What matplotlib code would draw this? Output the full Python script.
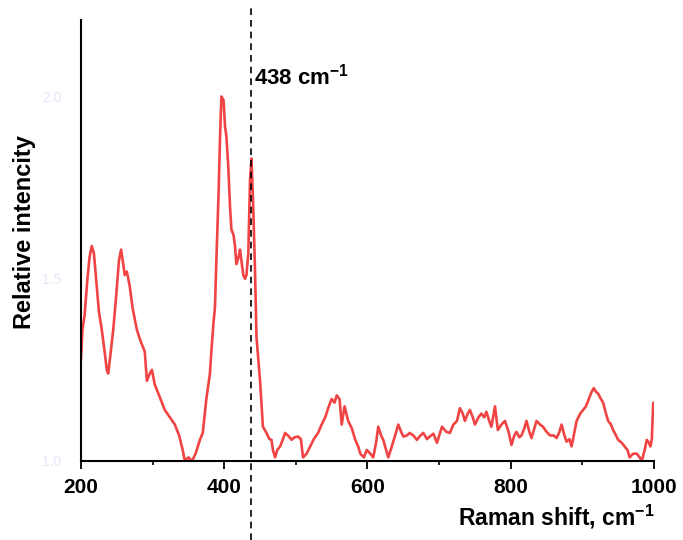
import matplotlib
matplotlib.use("Agg")
import matplotlib.pyplot as plt
from matplotlib.ticker import MultipleLocator

raman_shift = [200, 202, 205, 209, 212, 215, 218, 221, 225, 229, 233, 236, 238, 241, 245,
               249, 253, 256, 259, 261, 264, 268, 272, 275, 278, 283, 289, 292, 296, 299,
               303, 306, 311, 317, 324, 331, 337, 342, 345, 350, 355, 360, 366, 370, 375,
               380, 382, 385, 387, 389, 392, 394, 396, 399, 401, 403, 405.6, 408, 410, 413,
               415, 417, 420, 422, 424, 426.6, 429, 431, 433.6, 436, 438, 440.6, 443, 445,
               448, 450, 454, 459, 463, 466, 468, 471, 474, 478, 482, 485, 489, 494, 498,
               503, 507, 510, 515, 520, 525, 531, 536, 541, 546, 550, 554, 557, 561, 564,
               568, 573, 578, 583, 587, 590, 595, 599, 604, 608, 612, 615, 619, 622, 626,
               629, 634, 638, 643, 647, 650, 655, 659, 664, 669, 674, 678, 683, 687, 692,
               697, 704, 710, 715, 720, 725, 729, 733, 736, 740, 743, 747, 750, 755, 759,
               763, 766, 770, 773, 778, 782, 787, 792, 797, 801, 805, 808, 812, 815, 819,
               822, 826, 829, 833, 836, 841, 845, 850, 855, 860, 864, 868, 871, 875, 878,
               882, 885, 889, 892, 897, 901, 905, 909, 913, 916, 919, 922, 926, 929, 933,
               936, 940, 943, 947, 950, 955, 959, 963, 966, 971, 976, 980, 983, 987, 990,
               993, 995, 997, 999, 1000]
intensity = [1.28, 1.36, 1.40, 1.50, 1.56, 1.59, 1.57, 1.50, 1.41, 1.36, 1.30, 1.25, 1.24, 1.29, 1.36,
             1.45, 1.55, 1.58, 1.54, 1.51, 1.52, 1.48, 1.42, 1.39, 1.36, 1.33, 1.30, 1.22, 1.24, 1.25,
             1.21, 1.195, 1.17, 1.14, 1.12, 1.10, 1.07, 1.03, 1.00, 1.01, 1.00, 1.02, 1.058, 1.077, 1.17,
             1.24, 1.30, 1.38, 1.42, 1.55, 1.73, 1.88, 2.00, 1.99, 1.92, 1.89, 1.81, 1.70, 1.635, 1.62,
             1.59, 1.54, 1.56, 1.58, 1.55, 1.51, 1.50, 1.51, 1.57, 1.77, 1.83, 1.69, 1.52, 1.34,
             1.27, 1.22, 1.094, 1.077, 1.06, 1.058, 1.03, 1.01, 1.03, 1.04, 1.06, 1.077, 1.07, 1.058, 1.065,
             1.067, 1.06, 1.01, 1.02, 1.04, 1.06, 1.077, 1.10, 1.12, 1.15, 1.17, 1.16, 1.18, 1.17, 1.10,
             1.15, 1.11, 1.09, 1.058, 1.04, 1.02, 1.01, 1.03, 1.02, 1.01, 1.05, 1.094, 1.07, 1.058, 1.03,
             1.01, 1.04, 1.067, 1.10, 1.08, 1.067, 1.07, 1.077, 1.07, 1.058, 1.07, 1.077, 1.06, 1.067, 1.075,
             1.05, 1.094, 1.08, 1.077, 1.10, 1.11, 1.145, 1.13, 1.11, 1.13, 1.14, 1.12, 1.10, 1.12, 1.13,
             1.12, 1.135, 1.11, 1.094, 1.15, 1.085, 1.10, 1.11, 1.08, 1.044, 1.07, 1.08, 1.065, 1.07, 1.09,
             1.11, 1.08, 1.063, 1.09, 1.11, 1.10, 1.094, 1.08, 1.07, 1.07, 1.063, 1.08, 1.10, 1.07, 1.053,
             1.06, 1.04, 1.08, 1.11, 1.13, 1.14, 1.15, 1.17, 1.19, 1.20, 1.19, 1.185, 1.17, 1.16, 1.13,
             1.11, 1.10, 1.085, 1.07, 1.058, 1.05, 1.04, 1.03, 1.01, 1.02, 1.02, 1.01, 1.00, 1.03, 1.058,
             1.05, 1.04, 1.06, 1.16, 1.14]

x_ticks = [200, 400, 600, 800, 1000]
y_ticks = [1.0, 1.5, 2.0]
y_tick_labels = ["1.0", "1.5", "2.0"]
peak_position = 438
peak_label = "438 cm$^{\\mathbf{-1}}$"

plt.rcParams['font.family'] = ['Liberation Sans', 'DejaVu Sans']
plt.rcParams['mathtext.fontset'] = 'custom'
plt.rcParams['mathtext.rm'] = 'Liberation Sans'
plt.rcParams['mathtext.bf'] = 'Liberation Sans:bold'

fig = plt.figure(figsize=(6.83, 5.40), dpi=100)
ax = fig.add_axes([0.1186, 0.1463, 0.8389, 0.8167])

ax.plot(raman_shift, intensity, color='#f04444', lw=1.9)

ax.set_xlim(200, 1000)
ax.set_ylim(1.0, 2.21)

ax.axvline(peak_position, ymin=-0.18, ymax=1.035, color='black', lw=1.2,
           ls=(0, (4, 3)), clip_on=False)
ax.text(peak_position + 3, 2.02, peak_label, fontsize=16, fontweight='bold',
        ha='left', va='bottom')

for s in ['top', 'right']:
    ax.spines[s].set_visible(False)
for s in ['left', 'bottom']:
    ax.spines[s].set_linewidth(1.5)

ax.set_xticks(x_ticks)
ax.xaxis.set_minor_locator(MultipleLocator(100))
ax.tick_params(axis='x', which='major', direction='out', length=6, width=1.3,
               labelsize=15, pad=6)
ax.tick_params(axis='x', which='minor', direction='out', length=3, width=1.2)
for lbl in ax.get_xticklabels():
    lbl.set_fontweight('bold')

ax.set_yticks(y_ticks)
ax.set_yticklabels(y_tick_labels)
ax.tick_params(axis='y', which='major', length=0, labelsize=10, pad=14,
               labelcolor='#e0e8f8')

fig.text(0.959, 0.027, "Raman shift, cm$^{\\mathbf{-1}}$", fontsize=16.5,
         fontweight='bold', ha='right', va='baseline')
fig.text(0.036, 0.57, "Relative intencity", fontsize=17, fontweight='bold',
         rotation=90, ha='center', va='center')

fig.savefig("out.png", dpi=100)
